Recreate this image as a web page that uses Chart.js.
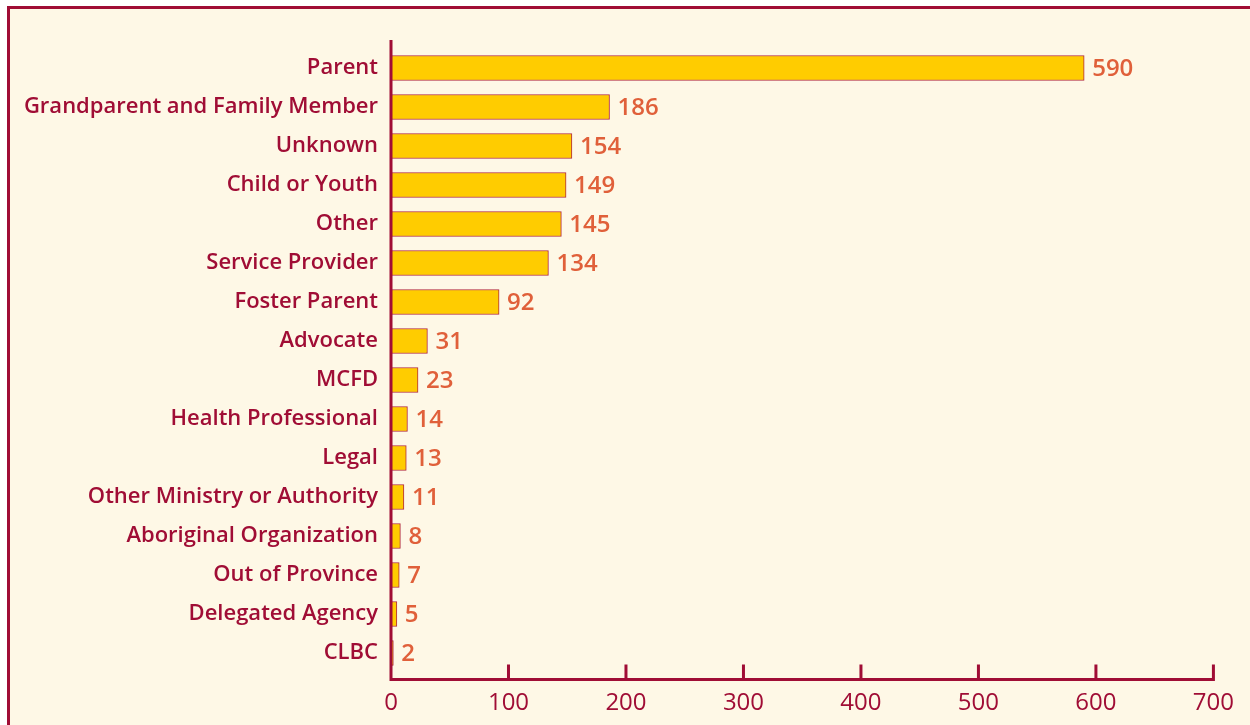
<!DOCTYPE html>
<html>
<head>
<meta charset="utf-8">
<script src="https://cdn.jsdelivr.net/npm/chart.js@4"></script>
<style>
  html, body { margin: 0; padding: 0; background: #ffffff; overflow: hidden; }
  #frame {
    position: absolute; left: 7px; top: 6px; width: 1260px; height: 740px;
    border-left: 3px solid #a00d35; border-top: 3px solid #a00d35;
    background: #fef8e6;
  }
  #wrap { position: absolute; left: 0; top: 0; width: 1250px; height: 725px; }
</style>
</head>
<body>
<div id="frame"></div>
<div id="wrap"><canvas id="chart" width="1250" height="725"></canvas></div>
<script>
const categories = [
  'Parent', 'Grandparent and Family Member', 'Unknown', 'Child or Youth', 'Other',
  'Service Provider', 'Foster Parent', 'Advocate', 'MCFD', 'Health Professional',
  'Legal', 'Other Ministry or Authority', 'Aboriginal Organization', 'Out of Province',
  'Delegated Agency', 'CLBC'
];
const values = [590, 186, 154, 149, 145, 134, 92, 31, 23, 14, 13, 11, 8, 7, 5, 2];
const xTicks = [0, 100, 200, 300, 400, 500, 600, 700];

const dark = '#a00d35';
const fontFamily = '"Open Sans", Lato, sans-serif';

// axis lines and upward tick marks, drawn like the original
const axisPlugin = {
  id: 'axisLines',
  afterDraw(chart) {
    const ctx = chart.ctx;
    const x = chart.scales.x;
    const x0 = x.getPixelForValue(0);
    const yAxis = 679.5;
    ctx.save();
    ctx.strokeStyle = dark;
    ctx.lineWidth = 3;
    ctx.beginPath();
    ctx.moveTo(x0, 40);
    ctx.lineTo(x0, yAxis + 1.5);
    ctx.moveTo(x0 - 1.5, yAxis);
    ctx.lineTo(x.getPixelForValue(700) + 1.5, yAxis);
    xTicks.forEach(v => {
      if (v === 0) return;
      const px = x.getPixelForValue(v);
      ctx.moveTo(px, yAxis);
      ctx.lineTo(px, yAxis - 15);
    });
    ctx.stroke();
    ctx.restore();
  }
};

// value labels at the end of each bar
const valuePlugin = {
  id: 'valueLabels',
  afterDatasetsDraw(chart) {
    const ctx = chart.ctx;
    const meta = chart.getDatasetMeta(0);
    ctx.save();
    ctx.fillStyle = '#e0603a';
    ctx.font = '600 24px ' + fontFamily;
    ctx.textAlign = 'left';
    ctx.textBaseline = 'middle';
    meta.data.forEach((bar, i) => {
      ctx.fillText(String(values[i]), bar.x + 8, bar.y + 1);
    });
    ctx.restore();
  }
};

new Chart(document.getElementById('chart'), {
  type: 'bar',
  data: {
    labels: categories,
    datasets: [{
      data: values,
      backgroundColor: '#ffcc00',
      borderColor: '#b0283f',
      borderWidth: 1,
      borderSkipped: false,
      barThickness: 25
    }]
  },
  options: {
    indexAxis: 'y',
    responsive: false,
    animation: false,
    events: [],
    layout: { padding: { left: 0, right: 36, top: 48.5, bottom: 0 } },
    plugins: { legend: { display: false }, tooltip: { enabled: false } },
    scales: {
      x: {
        min: 0, max: 700,
        border: { display: false },
        grid: { display: false, drawTicks: false },
        afterBuildTicks(scale) { scale.ticks = xTicks.map(v => ({ value: v })); },
        afterFit(scale) { scale.height = 725 - 672.5; },
        ticks: {
          padding: 16,
          color: dark,
          font: { family: fontFamily, size: 24, weight: '500' }
        }
      },
      y: {
        border: { display: false },
        grid: { display: false, drawTicks: false },
        afterFit(scale) { scale.width = 391; },
        ticks: {
          padding: 13,
          color: dark,
          font: { family: fontFamily, size: 22, weight: '600' }
        }
      }
    }
  },
  plugins: [axisPlugin, valuePlugin]
});
</script>
</body>
</html>
